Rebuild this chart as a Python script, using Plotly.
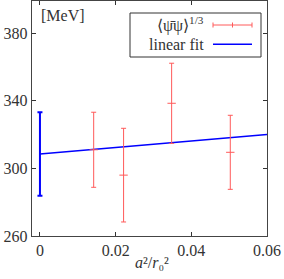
import plotly.graph_objects as go

# data
x_meas = [0.0142, 0.0221, 0.0348, 0.0503]
y_meas = [311.0, 296.0, 338.5, 309.5]
err_meas = [22.2, 27.7, 23.7, 21.9]

x_cont = [0.0]
y_cont = [308.5]
err_cont = [24.7]

x_fit = [0.0, 0.06]
y_fit = [308.5, 320.1]

x_ticks = [0, 0.02, 0.04, 0.06]
x_ticklabels = ["0", "0.02", "0.04", "0.06"]
y_ticks = [260, 300, 340, 380]

RED = "#ff5a5a"
BLUE = "#0000ff"
FONT = "Liberation Serif"
FS = 16

fig = go.Figure()
fig.add_trace(go.Scatter(
    x=x_fit, y=y_fit, mode="lines",
    line=dict(color=BLUE, width=1.5), showlegend=False, hoverinfo="skip"))
fig.add_trace(go.Scatter(
    x=x_meas, y=y_meas, mode="markers",
    marker=dict(symbol="line-ew", size=6, line=dict(color=RED, width=1)),
    error_y=dict(type="data", array=err_meas, color=RED, thickness=1, width=2.5),
    showlegend=False, hoverinfo="skip"))
fig.add_trace(go.Scatter(
    x=x_cont, y=y_cont, mode="markers",
    marker=dict(size=1, color="rgba(0,0,0,0)"),
    error_y=dict(type="data", array=err_cont, color=BLUE, thickness=2, width=2.5),
    showlegend=False, hoverinfo="skip"))

def px(x):
    return (x - 32) / 235.0

def py(y):
    return (236 - y) / 235.0

shapes = [
    dict(type="rect", xref="paper", yref="paper", x0=px(130), x1=px(261), y0=py(57), y1=py(13),
         line=dict(color="#333", width=1), fillcolor="white"),
    dict(type="line", xref="paper", yref="paper", x0=px(213), x1=px(252), y0=py(25), y1=py(25),
         line=dict(color=RED, width=1)),
    dict(type="line", xref="paper", yref="paper", x0=px(213), x1=px(213), y0=py(27.5), y1=py(22.5),
         line=dict(color=RED, width=1)),
    dict(type="line", xref="paper", yref="paper", x0=px(252), x1=px(252), y0=py(27.5), y1=py(22.5),
         line=dict(color=RED, width=1)),
    dict(type="line", xref="paper", yref="paper", x0=px(232.5), x1=px(232.5), y0=py(27.5), y1=py(22.5),
         line=dict(color=RED, width=1)),
    dict(type="line", xref="paper", yref="paper", x0=px(213), x1=px(252), y0=py(44.3), y1=py(44.3),
         line=dict(color=BLUE, width=1.5)),
]
for s in shapes:
    s["layer"] = "above"

annotations = [
    dict(text="[MeV]", xref="paper", yref="paper", x=px(39), y=py(16), xanchor="left", yanchor="middle",
         showarrow=False, font=dict(family=FONT, size=FS, color="#333")),
    dict(text="⟨ψ̄ψ⟩<sup>1/3</sup>", xref="paper", yref="paper", x=px(206), y=py(24), xanchor="right",
         yanchor="middle", showarrow=False, font=dict(family=FONT, size=FS, color="#333")),
    dict(text="linear fit", xref="paper", yref="paper", x=px(206), y=py(44), xanchor="right",
         yanchor="middle", showarrow=False, font=dict(family=FONT, size=FS, color="#333")),
    dict(text="<i>a</i>²/<i>r</i>₀²", xref="paper", yref="paper", x=px(152), y=py(262), xanchor="center",
         yanchor="middle", showarrow=False, font=dict(family=FONT, size=FS, color="#333")),
]

fig.update_layout(
    width=284, height=279,
    margin=dict(l=32, r=17, t=1, b=43),
    paper_bgcolor="white", plot_bgcolor="white",
    font=dict(family=FONT, size=FS, color="#333"),
    shapes=shapes, annotations=annotations,
    xaxis=dict(range=[-0.0021, 0.06], tickvals=x_ticks, ticktext=x_ticklabels,
               ticks="inside", ticklen=4, tickcolor="#333", showgrid=False, zeroline=False,
               showline=True, linecolor="#444", linewidth=1.2, mirror="ticks", automargin=False),
    yaxis=dict(range=[260, 399], tickvals=y_ticks, automargin=False,
               ticks="inside", ticklen=4, tickcolor="#333", showgrid=False, zeroline=False,
               showline=True, linecolor="#444", linewidth=1.2, mirror="ticks"),
)

fig.write_html("out.html", config={"displayModeBar": False, "staticPlot": True},
               post_script="document.body.style.margin='0';document.body.style.overflow='hidden';")
